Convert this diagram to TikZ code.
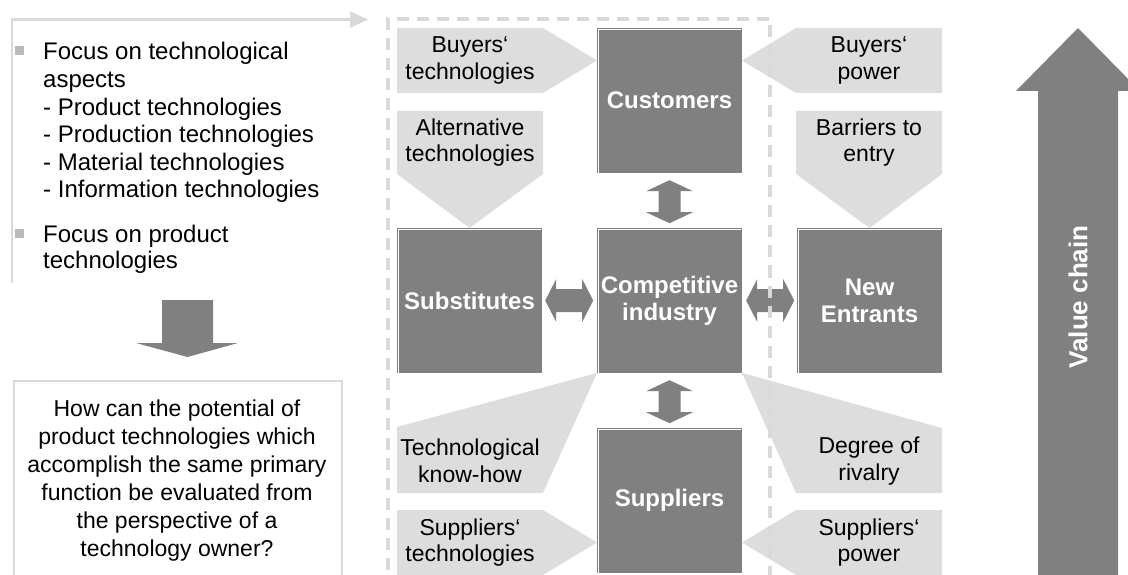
\documentclass[tikz,border=0pt]{standalone}
\usepackage{fontspec}
\setmainfont{Liberation Sans}
\usetikzlibrary{arrows.meta,calc}
\definecolor{dkgray}{RGB}{128,128,128}
\definecolor{ltgray}{RGB}{221,221,221}
\definecolor{frgray}{RGB}{217,217,217}
\definecolor{bulgray}{RGB}{185,185,185}
\begin{document}
\begin{tikzpicture}[x=1pt,y=-1pt,
  darkbox/.style={fill=dkgray, minimum width=145pt, minimum height=145pt, inner sep=0pt,
    text=white, font=\fontsize{24}{27}\selectfont\bfseries, align=center,
    path picture={\draw[white,line width=0.8pt]
      ([xshift=1.5pt]path picture bounding box.south west) --
      ([xshift=1.5pt,yshift=-1.5pt]path picture bounding box.north west) --
      ([xshift=-1.5pt,yshift=-1.5pt]path picture bounding box.north east);}},
  lightshape/.style={fill=ltgray},
  shapetext/.style={font=\fontsize{23}{26.5}\selectfont, align=center, inner sep=0pt},
  bodytext/.style={font=\fontsize{24}{27.5}\selectfont, anchor=base west, inner sep=0pt},
  bulletsq/.style={fill=bulgray, minimum size=9pt, inner sep=0pt},
  vdarrow/.pic={\fill[dkgray] (0,0) -- (23.5,11) -- (11,11) -- (11,32) -- (23.5,32) -- (0,43)
      -- (-23.5,32) -- (-11,32) -- (-11,11) -- (-23.5,11) -- cycle;},
  hdarrow/.pic={\fill[dkgray] (0,0) -- (11,-21.5) -- (11,-11.5) -- (37,-11.5) -- (37,-21.5) -- (48,0)
      -- (37,21.5) -- (37,11.5) -- (11,11.5) -- (11,21.5) -- cycle;},
]
\useasboundingbox (0,0) rectangle (1128,575);
\clip (0,0) rectangle (1128,575);

% ---------- left column ----------
\coordinate (brs) at (12,283);
\coordinate (brc) at (12,19.5);
\coordinate (bre) at (368,19.5);
\draw[frgray, line width=2.5pt, line join=miter, -{Triangle[length=18pt,width=16pt]}] (brs) -- (brc) -- (bre);

\node[bulletsq] (b1) at (19,51) {};
\node[bodytext] (l1) at (43,60) {Focus on technological};
\node[bodytext] (l2) at (43,87.5) {aspects};
\node[bodytext] (l3) at (43,115.5) {- Product technologies};
\node[bodytext] (l4) at (43,143) {- Production technologies};
\node[bodytext] (l5) at (43,170.5) {- Material technologies};
\node[bodytext] (l6) at (43,198) {- Information technologies};
\node[bulletsq] (b2) at (19,233) {};
\node[bodytext] (l7) at (43,242) {Focus on product};
\node[bodytext] (l8) at (43,269) {technologies};

\fill[dkgray] (162,300) -- (213,300) -- (213,343) -- (238,343) -- (187.5,357) -- (136,343) -- (162,343) -- cycle;

\node[draw=frgray, line width=2pt, minimum width=328pt, minimum height=230pt, anchor=north west, inner sep=0pt] (qbox) at (13,380) {};
\node[font=\fontsize{23}{28}\selectfont, align=center, inner sep=0pt] (qtext) at (177,481)
  {How can the potential of\\product technologies which\\accomplish the same primary\\function be evaluated from\\the perspective of a\\technology owner?};

% ---------- light arrow shapes ----------
\fill[lightshape] (397,28) -- (543,28) -- (597,60.5) -- (543,93) -- (397,93) -- cycle;
\fill[lightshape] (397,111) -- (543,111) -- (543,174) -- (469.5,228) -- (397,174) -- cycle;
\fill[lightshape] (942,28) -- (796,28) -- (742,60.5) -- (796,93) -- (942,93) -- cycle;
\fill[lightshape] (796,111) -- (942,111) -- (942,174) -- (869.5,228) -- (796,174) -- cycle;
\fill[lightshape] (397,427) -- (597,373) -- (543,493) -- (397,493) -- cycle;
\fill[lightshape] (742,373) -- (942,428) -- (942,493) -- (796,493) -- cycle;
\fill[lightshape] (397,510) -- (543,510) -- (597,542.5) -- (543,575) -- (397,575) -- cycle;
\fill[lightshape] (942,510) -- (796,510) -- (742,542.5) -- (796,575) -- (942,575) -- cycle;

\node[shapetext] (tbt) at (470,60.5) {Buyers‘\\technologies};
\node[shapetext] (tat) at (470,142.5) {Alternative\\technologies};
\node[shapetext] (tbp) at (869,60.5) {Buyers‘\\power};
\node[shapetext] (tbe) at (869,142.5) {Barriers to\\entry};
\node[shapetext] (tkh) at (470,461) {Technological\\know-how};
\node[shapetext] (tst) at (470,542.5) {Suppliers‘\\technologies};
\node[shapetext] (tdr) at (869,461) {Degree of\\rivalry};
\node[shapetext] (tsp) at (869,542.5) {Suppliers‘\\power};

% ---------- dark boxes ----------
\node[darkbox] (cust) at (669.5,100.5) {Customers};
\node[darkbox] (comp) at (669.5,300.5) {Competitive\\industry};
\node[darkbox] (supp) at (669.5,500.5) {Suppliers};
\node[darkbox] (subs) at (469.5,300.5) {Substitutes};
\node[darkbox] (newe) at (869.5,300.5) {New\\Entrants};

% ---------- dark double arrows ----------
\pic at ($(cust.south)+(0,7)$) {vdarrow};
\pic at ($(comp.south)+(0,7)$) {vdarrow};
\pic at ($(subs.east)+(3,0)$) {hdarrow};
\pic at ($(comp.east)+(4,0)$) {hdarrow};

% ---------- dashed frame ----------
\draw[frgray, line width=4pt, dash pattern=on 12pt off 8pt] (387.5,590) -- (387.5,19) -- (770,19) -- (770,590);

% ---------- value chain ----------
\fill[dkgray] (1038,590) -- (1038,91) -- (1016,91) -- (1078,28) -- (1140,91) -- (1118,91) -- (1118,590) -- cycle;
\node[rotate=90, text=white, font=\fontsize{26}{30}\selectfont\bfseries, inner sep=0pt] (vc) at (1078,297) {Value chain};
\end{tikzpicture}
\end{document}
